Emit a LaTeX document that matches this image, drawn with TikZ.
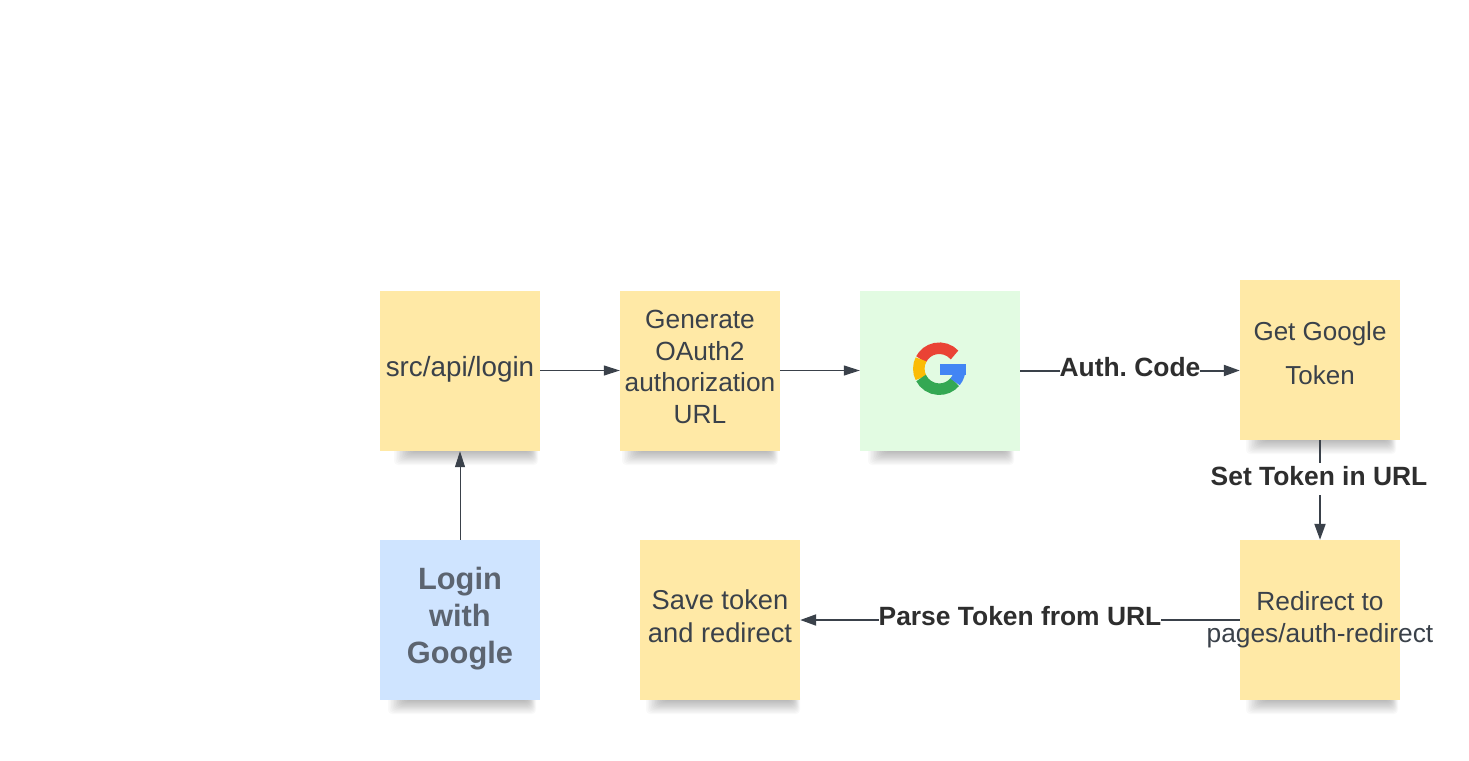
\documentclass[tikz,border=0pt]{standalone}
\usepackage{fontspec}
\setmainfont{Liberation Sans}
\usetikzlibrary{arrows.meta}
\frenchspacing
\definecolor{sticky}{HTML}{FFE9A6}
\definecolor{mint}{HTML}{E2FBE2}
\definecolor{sky}{HTML}{CFE4FF}
\definecolor{ink}{HTML}{3A414A}
\definecolor{labelink}{HTML}{2E2E2E}
\definecolor{loginink}{HTML}{5C6470}
\definecolor{gred}{HTML}{EA4335}
\definecolor{gyellow}{HTML}{FBBC05}
\definecolor{ggreen}{HTML}{34A853}
\definecolor{gblue}{HTML}{4285F4}
\newcommand\liftby[1]{\rule[-#1pt]{0pt}{#1pt}}
\newcommand\softshadow[3]{%
  \foreach \d in {0,...,11}{
    \fill[black,opacity=.024,rounded corners=4pt] (#1+\d*1.5,#3-6) rectangle (#2-\d*.7,#3+14-\d*1.2);
  }}
\tikzset{
  x=1pt,y=-1pt,
  note/.style={rectangle,draw=none,minimum width=160pt,minimum height=160pt,inner sep=0pt,align=center,text=ink},
  thin link/.style={draw=ink,line width=1pt,-{Triangle[length=16pt,width=10pt]}},
  link/.style={draw=ink,line width=2pt,-{Triangle[length=16pt,width=11pt]}},
  edgetext/.style={fill=white,inner xsep=0pt,inner ysep=0pt,minimum height=32pt,text=labelink,font=\fontsize{26.4}{30}\selectfont\bfseries},
  gring/.style={line width=11.5pt,line cap=butt}
}
\begin{document}
\begin{tikzpicture}
\useasboundingbox (0,0) rectangle (1469,760);
\fill[white] (0,0) rectangle (1469,760);
% shadows
\softshadow{394}{538}{451}
\softshadow{622}{778}{451}
\softshadow{868}{1014}{451}
\softshadow{1246}{1396}{440}
\softshadow{388}{536}{700}
\softshadow{646}{800}{700}
\softshadow{1246}{1398}{700}
% boxes
\node[note,fill=sticky,font=\fontsize{27.8}{32}\selectfont] (src) at (460,371) {src/api/login\liftby{9}};
\node[note,fill=sticky,font=\fontsize{26.3}{31.5}\selectfont] (gen) at (700,371) {Generate\\OAuth2\\authorization\\URL\liftby{8}};
\node[note,fill=mint] (google) at (940,371) {};
\node[note,fill=sticky,font=\fontsize{26}{44}\selectfont] (tok) at (1320,360) {Get Google\\Token\liftby{13}};
\node[note,fill=sky,text=loginink,font=\fontsize{30.8}{37}\selectfont\bfseries] (login) at (460,620) {Login\\with\\Google\liftby{10}};
\node[note,fill=sticky,font=\fontsize{27.3}{33}\selectfont] (save) at (720,620) {Save token\\and redirect\liftby{8}};
\node[note,fill=sticky,font=\fontsize{26.3}{32}\selectfont] (redir) at (1320,620) {Redirect to\\\makebox[0pt]{pages/auth-redirect}\liftby{6}};
% Google logo
\coordinate (gc) at (939.3,368.7);
\draw[gring,gred] ([shift={(-42:20.5)}]gc) arc[start angle=-42,end angle=-153,radius=20.5];
\draw[gring,gyellow] ([shift={(-153:20.5)}]gc) arc[start angle=-153,end angle=-207,radius=20.5];
\draw[gring,ggreen] ([shift={(-207:20.5)}]gc) arc[start angle=-207,end angle=-320,radius=20.5];
\draw[gring,gblue] ([shift={(40:20.5)}]gc) arc[start angle=40,end angle=-4,radius=20.5];
\fill[gblue] (940,364) rectangle (965.8,374.5);
% connectors
\draw[thin link] (src.east |- 0,370.5) -- (gen.west |- 0,370.5);
\draw[thin link] (gen.east |- 0,370.5) -- (google.west |- 0,370.5);
\draw[link] (google.east |- 0,370.5) -- (tok.west |- 0,370.5);
\draw[link] (tok.south) -- (redir.north);
\draw[link] (redir.west) -- (save.east);
\draw[thin link] (login.north) -- (src.south);
% connector labels
\node[edgetext] (lauth) at (1130,367) {Auth. Code};
\node[edgetext] (lset) at (1319,479) {Set Token in URL\liftby{7}};
\node[edgetext] (lparse) at (1020,616) {Parse Token from URL};
\end{tikzpicture}
\end{document}
